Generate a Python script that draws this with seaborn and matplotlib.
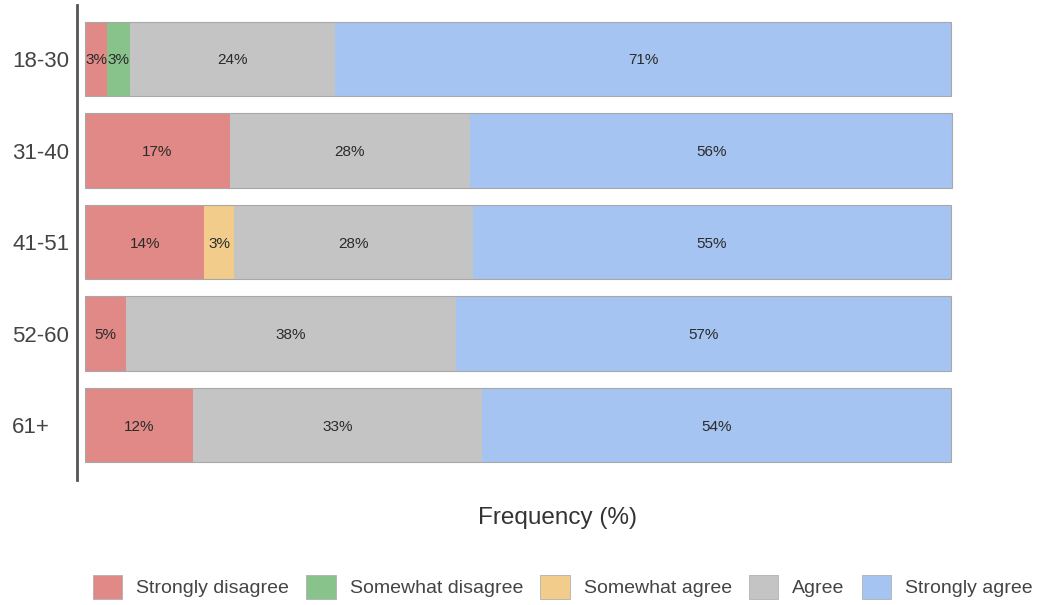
import numpy as np
import pandas as pd
import matplotlib
matplotlib.use("Agg")
import matplotlib.pyplot as plt
import seaborn as sns
from matplotlib.patches import Patch

groups = ["18-30", "31-40", "41-51", "52-60", "61+"]
responses = ["Strongly disagree", "Somewhat disagree", "Somewhat agree",
             "Agree", "Strongly agree"]

# porcentajes por grupo de edad (filas = respuestas)
strongly_disagree = [2.6, 16.7, 13.8, 4.7, 12.5]
somewhat_disagree = [2.6, 0.0, 0.0, 0.0, 0.0]
somewhat_agree = [0.0, 0.0, 3.4, 0.0, 0.0]
agree = [23.7, 27.8, 27.6, 38.1, 33.3]
strongly_agree = [71.1, 55.6, 55.2, 57.2, 54.2]

colors = ["#e08987", "#88c38b", "#f1cc8b", "#c4c4c4", "#a5c4f1"]

valores = [strongly_disagree, somewhat_disagree, somewhat_agree, agree, strongly_agree]

sns.set_theme(style="white")
plt.rcParams["font.family"] = ["Liberation Sans", "DejaVu Sans"]

fig = plt.figure(figsize=(10.39, 6.05), dpi=100)
ax = fig.add_axes([77 / 1039, 1 - 480 / 605, (959 - 77) / 1039, 475 / 605])

inicio = np.zeros(len(groups))
for resp, vals, col in zip(responses, valores, colors):
    df = pd.DataFrame({"grupo": groups, "valor": vals})
    sns.barplot(data=df, y="grupo", x="valor", order=groups, color=col,
                orient="y", width=0.81, linewidth=0, left=inicio.copy(),
                saturation=1, ax=ax)
    for i, v in enumerate(vals):
        if v > 0:
            ax.text(inicio[i] + v / 2, i, f"{v:.0f}%", ha="center",
                    va="center_baseline", fontsize=11, color="#2a2a2a")
    inicio = inicio + np.array(vals)

# contorno de cada barra
tot = pd.DataFrame({"grupo": groups, "valor": inicio})
sns.barplot(data=tot, y="grupo", x="valor", order=groups, orient="y",
            width=0.81, fill=False, edgecolor="#a8a8a8", linewidth=0.8, ax=ax)

ax.set_xlim(-0.92, 100.92)
ax.set_ylim(4.6, -0.59)
ax.set_xticks([])
ax.set_ylabel("")
ax.set_xlabel("Frequency (%)", fontsize=17.5, color="#333333")
ax.xaxis.set_label_coords((557 - 77) / (959 - 77), -(518 - 480) / 475, transform=ax.transAxes)
ax.xaxis.label.set_va("center")
ax.tick_params(axis="y", labelsize=16, colors="#444444", length=0, pad=65 / 1.389)
for lab in ax.get_yticklabels():
    lab.set_ha("left")
for s in ["top", "right", "bottom"]:
    ax.spines[s].set_visible(False)
ax.spines["left"].set_color("#555555")
ax.spines["left"].set_linewidth(2)

handles = [Patch(facecolor=c, edgecolor="#b0b0b0", linewidth=0.6) for c in colors]
fig.legend(handles, responses, loc="center", bbox_to_anchor=(563 / 1039, 1 - 587 / 605),
           ncol=5, frameon=False, fontsize=14, handlelength=1.5, handleheight=1.5,
           handletextpad=0.72, columnspacing=0.9, labelcolor="#444444")

fig.savefig("out.png", dpi=100)
